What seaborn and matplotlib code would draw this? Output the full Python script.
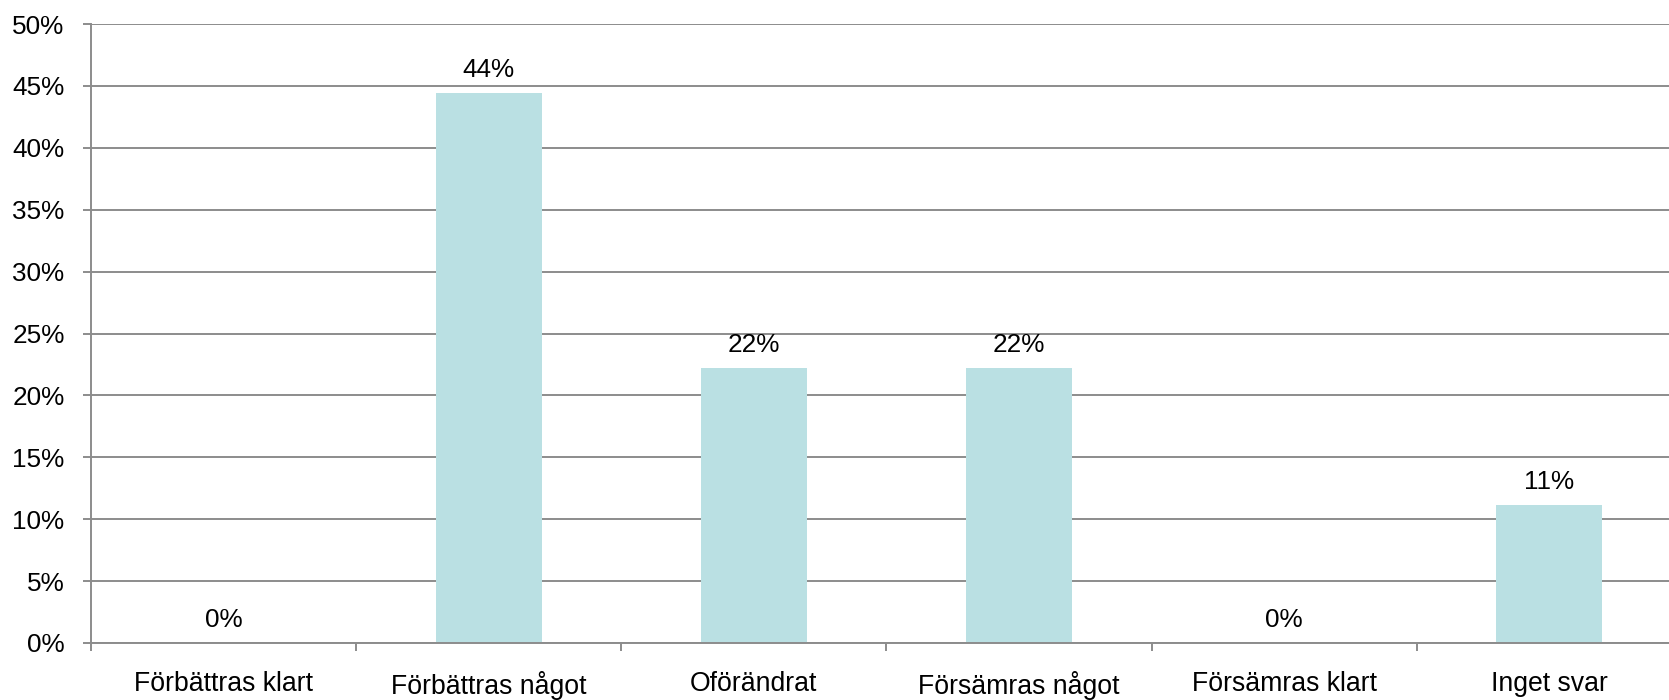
import matplotlib
matplotlib.use("Agg")
import matplotlib.pyplot as plt
import seaborn as sns
import pandas as pd
from matplotlib.ticker import FixedLocator, FuncFormatter

categories = ["Förbättras klart", "Förbättras något", "Oförändrat",
              "Försämras något", "Försämras klart", "Inget svar"]
values = [0.0, 44.44, 22.22, 22.22, 0.0, 11.11]
value_labels = ["0%", "44%", "22%", "22%", "0%", "11%"]
yticks = [0, 5, 10, 15, 20, 25, 30, 35, 40, 45, 50]

sns.set_theme(style="white")
plt.rcParams['font.family'] = ['Liberation Sans', 'DejaVu Sans']

df = pd.DataFrame({"cat": categories, "val": values})

fig = plt.figure(figsize=(16.69, 7.0), dpi=100)
ax = fig.add_axes([91/1669, 1 - 643/700, 1591/1669, (643 - 24)/700])

grid_c = "#8c8c8c"
ax.set_axisbelow(True)
for y in yticks:
    ax.axhline(y, color=grid_c, lw=1.4, zorder=0)

sns.barplot(data=df, x="cat", y="val", color="#bae0e3", width=0.4,
            saturation=1, ax=ax, zorder=2, edgecolor="none")

for i, (v, lab) in enumerate(zip(values, value_labels)):
    ax.annotate(lab, (i, v), xytext=(0, 11.5), textcoords="offset points",
                ha="center", va="baseline", fontsize=18.8, color="black")

ax.set_xlim(-0.5, 5.5)
ax.set_ylim(0, 50)
ax.yaxis.set_major_locator(FixedLocator(yticks))
ax.yaxis.set_major_formatter(FuncFormatter(lambda v, p: f"{int(v)}%"))
ax.xaxis.set_major_locator(FixedLocator(range(len(categories))))
ax.set_xticklabels(categories)
ax.xaxis.set_minor_locator(FixedLocator([i - 0.5 for i in range(len(categories) + 1)]))
ax.tick_params(axis="x", which="major", length=0, pad=20, labelsize=19.2, colors="black")
ax.tick_params(axis="x", which="minor", length=6, width=1.4, color=grid_c, direction="out", bottom=True)
ax.tick_params(axis="y", which="major", length=6, width=1.4, color=grid_c, direction="out", left=True,
               pad=13, labelsize=18.8, labelcolor="black")

for s in ["top", "right"]:
    ax.spines[s].set_visible(False)
ax.spines["left"].set_color(grid_c)
ax.spines["left"].set_linewidth(1.4)
ax.spines["bottom"].set_color(grid_c)
ax.spines["bottom"].set_linewidth(1.4)
ax.set_xlabel("")
ax.set_ylabel("")

fig.savefig("out.png", dpi=100, facecolor="white")
